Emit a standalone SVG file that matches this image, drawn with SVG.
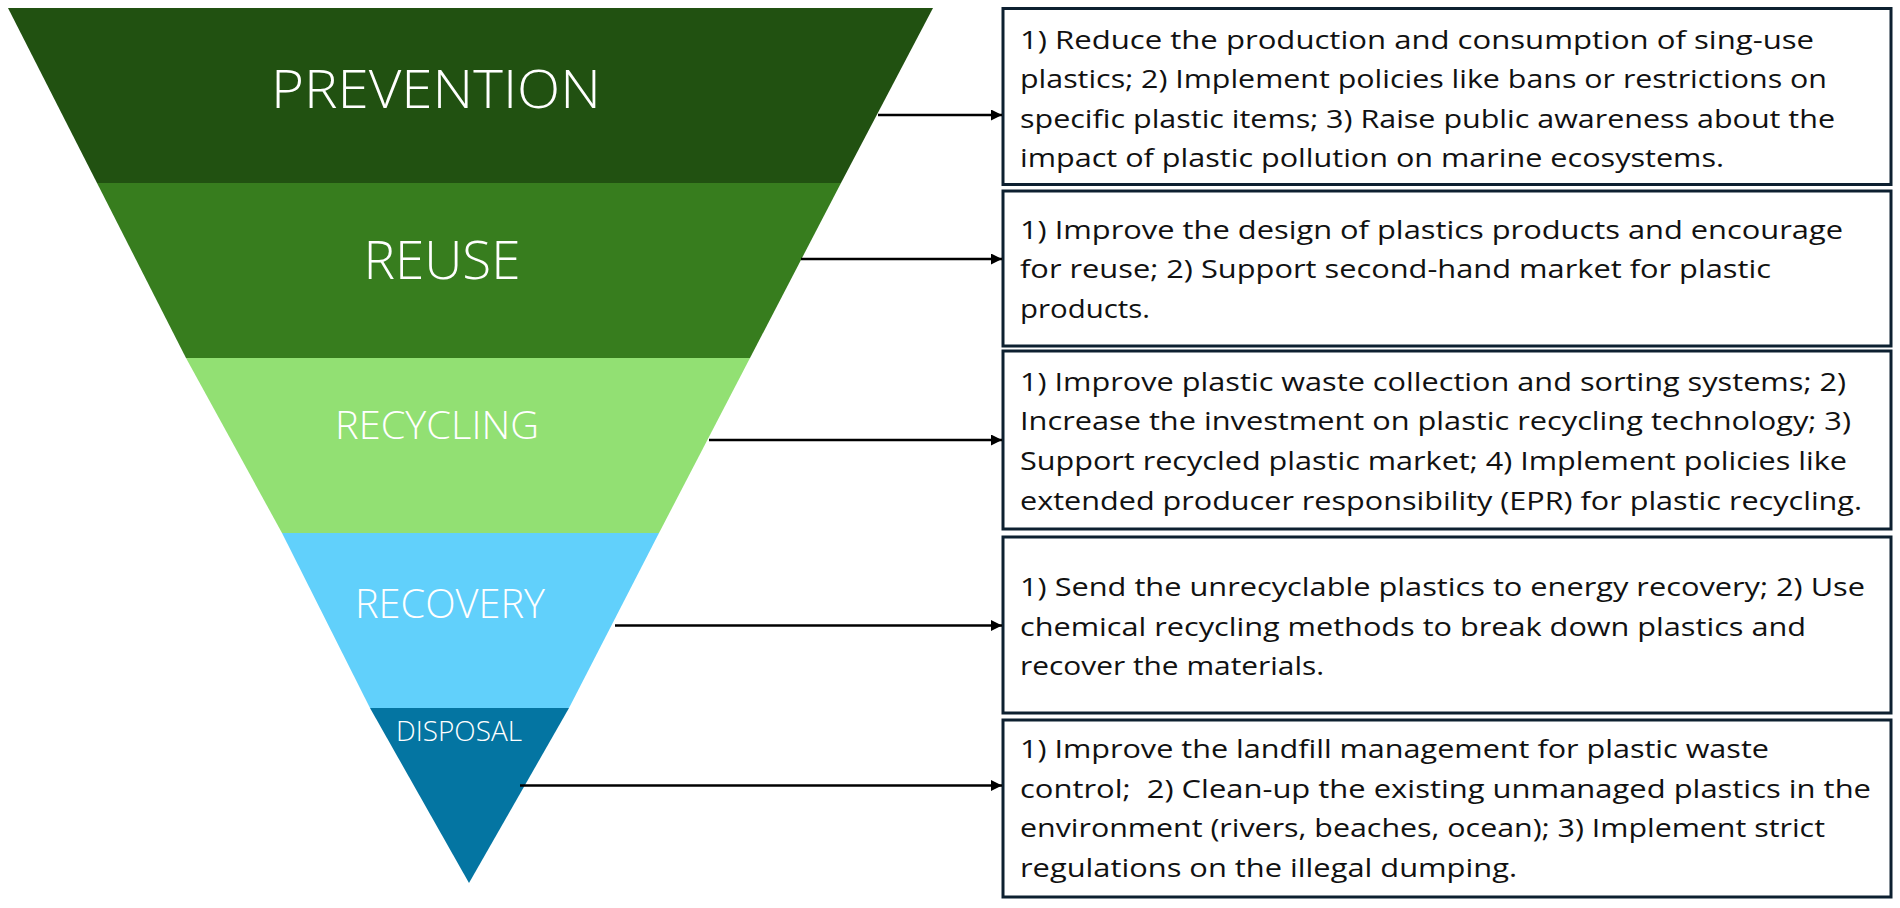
<svg xmlns="http://www.w3.org/2000/svg" width="1900" height="908" viewBox="0 0 1900 908">
<defs>
<style>
.lbl{font-family:"Open Sans","Liberation Sans",sans-serif;font-weight:300;fill:#ffffff;text-anchor:middle}
.box{fill:#ffffff;stroke:#0d2030;stroke-width:3}
.txt{font-family:"Open Sans","Noto Sans","Liberation Sans",sans-serif;font-size:25px;fill:#111111}
.conn{stroke:#000000;stroke-width:2.5;fill:none;marker-end:url(#ah)}
</style>
<marker id="ah" markerUnits="userSpaceOnUse" markerWidth="12" markerHeight="11" refX="11" refY="5.5" orient="auto">
<path d="M0,0 L11,5.5 L0,11 z" fill="#000000"/>
</marker>
</defs>
<rect width="1900" height="908" fill="#ffffff"/>

<g id="prevention">
<polygon points="8,8 933,8 841,183 97,183" fill="#215111"/>
<text class="lbl" x="436" y="108" font-size="53" textLength="330" lengthAdjust="spacingAndGlyphs">PREVENTION</text>
</g>
<g id="reuse">
<polygon points="97,183 841,183 750,358 186,358" fill="#377d1e"/>
<text class="lbl" x="442" y="279" font-size="54" textLength="157" lengthAdjust="spacingAndGlyphs">REUSE</text>
</g>
<g id="recycling">
<polygon points="186,358 750,358 659,533 282,533" fill="#92e073"/>
<text class="lbl" x="437" y="439" font-size="39" textLength="204" lengthAdjust="spacingAndGlyphs">RECYCLING</text>
</g>
<g id="recovery">
<polygon points="282,533 659,533 569,708 370,708" fill="#61d0fb"/>
<text class="lbl" x="450" y="618" font-size="40" textLength="190" lengthAdjust="spacingAndGlyphs">RECOVERY</text>
</g>
<g id="disposal">
<polygon points="370,708 569,708 469,883" fill="#0475a2"/>
<text class="lbl" x="459" y="741" font-size="27" font-weight="400" textLength="126" lengthAdjust="spacingAndGlyphs">DISPOSAL</text>
</g>

<g id="box-prevention">
<rect class="box" x="1003" y="8.5" width="888" height="176"/>
<text class="txt" x="1020" y="49" textLength="794" lengthAdjust="spacingAndGlyphs">1) Reduce the production and consumption of sing-use</text>
<text class="txt" x="1020" y="88" textLength="807" lengthAdjust="spacingAndGlyphs">plastics; 2) Implement policies like bans or restrictions on</text>
<text class="txt" x="1020" y="128" textLength="815" lengthAdjust="spacingAndGlyphs">specific plastic items; 3) Raise public awareness about the</text>
<text class="txt" x="1020" y="167" textLength="704" lengthAdjust="spacingAndGlyphs">impact of plastic pollution on marine ecosystems.</text>
</g>
<g id="box-reuse">
<rect class="box" x="1003" y="191" width="888" height="155"/>
<text class="txt" x="1020" y="239" textLength="823" lengthAdjust="spacingAndGlyphs">1) Improve the design of plastics products and encourage</text>
<text class="txt" x="1020" y="278" textLength="751" lengthAdjust="spacingAndGlyphs">for reuse; 2) Support second-hand market for plastic</text>
<text class="txt" x="1020" y="318" textLength="130" lengthAdjust="spacingAndGlyphs">products.</text>
</g>
<g id="box-recycling">
<rect class="box" x="1003" y="351" width="888" height="178"/>
<text class="txt" x="1020" y="391" textLength="826" lengthAdjust="spacingAndGlyphs">1) Improve plastic waste collection and sorting systems; 2)</text>
<text class="txt" x="1020" y="430" textLength="831" lengthAdjust="spacingAndGlyphs">Increase the investment on plastic recycling technology; 3)</text>
<text class="txt" x="1020" y="470" textLength="827" lengthAdjust="spacingAndGlyphs">Support recycled plastic market; 4) Implement policies like</text>
<text class="txt" x="1020" y="510" textLength="842" lengthAdjust="spacingAndGlyphs">extended producer responsibility (EPR) for plastic recycling.</text>
</g>
<g id="box-recovery">
<rect class="box" x="1003" y="537" width="888" height="176"/>
<text class="txt" x="1020" y="596" textLength="845" lengthAdjust="spacingAndGlyphs">1) Send the unrecyclable plastics to energy recovery; 2) Use</text>
<text class="txt" x="1020" y="636" textLength="786" lengthAdjust="spacingAndGlyphs">chemical recycling methods to break down plastics and</text>
<text class="txt" x="1020" y="675" textLength="304" lengthAdjust="spacingAndGlyphs">recover the materials.</text>
</g>
<g id="box-disposal">
<rect class="box" x="1003" y="720" width="888" height="177"/>
<text class="txt" x="1020" y="758" textLength="749" lengthAdjust="spacingAndGlyphs">1) Improve the landfill management for plastic waste</text>
<text class="txt" x="1020" y="798" textLength="851" lengthAdjust="spacingAndGlyphs" xml:space="preserve">control;  2) Clean-up the existing unmanaged plastics in the</text>
<text class="txt" x="1020" y="837" textLength="805" lengthAdjust="spacingAndGlyphs">environment (rivers, beaches, ocean); 3) Implement strict</text>
<text class="txt" x="1020" y="877" textLength="497" lengthAdjust="spacingAndGlyphs">regulations on the illegal dumping.</text>
</g>

<g id="connectors">
<line class="conn" x1="878" y1="115" x2="1002" y2="115"/>
<line class="conn" x1="801" y1="259" x2="1002" y2="259"/>
<line class="conn" x1="709" y1="440" x2="1002" y2="440"/>
<line class="conn" x1="615" y1="625.5" x2="1002" y2="625.5"/>
<line class="conn" x1="520" y1="785.5" x2="1002" y2="785.5"/>
</g>
</svg>
